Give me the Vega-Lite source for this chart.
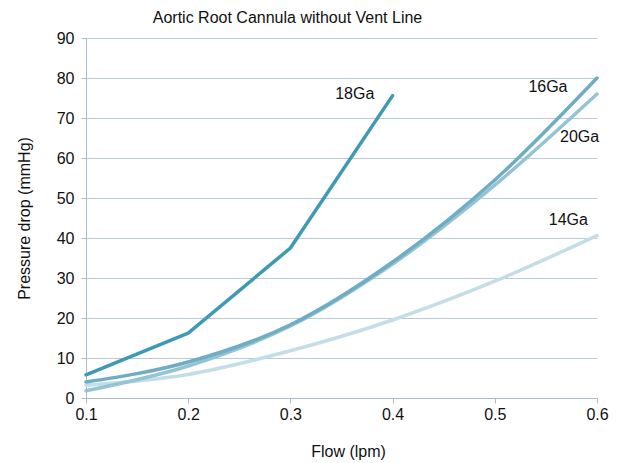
{
  "$schema": "https://vega.github.io/schema/vega-lite/v6.json",
  "width": 511,
  "height": 360,
  "autosize": {"type": "none"},
  "padding": {"left": 86, "top": 38, "right": 32, "bottom": 65},
  "background": "white",
  "title": {
    "text": "Aortic Root Cannula without Vent Line",
    "anchor": "middle",
    "frame": "group",
    "dx": -54,
    "offset": 4,
    "fontSize": 16,
    "fontWeight": "normal",
    "font": "Liberation Sans",
    "color": "#111111"
  },
  "config": {
    "view": {"stroke": null},
    "font": "Liberation Sans",
    "title": {"fontSize": 16, "fontWeight": "normal", "dx": -54}
  },
  "datasets": {
    "curves": [
      {"flow": 0.1, "pressure": 5.8, "series": "18Ga"},
      {"flow": 0.2, "pressure": 16.2, "series": "18Ga"},
      {"flow": 0.3, "pressure": 37.5, "series": "18Ga"},
      {"flow": 0.4, "pressure": 75.6, "series": "18Ga"},
      {"flow": 0.1, "pressure": 3.2, "series": "14Ga"},
      {"flow": 0.2, "pressure": 5.9, "series": "14Ga"},
      {"flow": 0.3, "pressure": 11.8, "series": "14Ga"},
      {"flow": 0.4, "pressure": 19.5, "series": "14Ga"},
      {"flow": 0.5, "pressure": 29.2, "series": "14Ga"},
      {"flow": 0.6, "pressure": 40.6, "series": "14Ga"},
      {"flow": 0.1, "pressure": 1.8, "series": "20Ga"},
      {"flow": 0.2, "pressure": 8.0, "series": "20Ga"},
      {"flow": 0.3, "pressure": 18.0, "series": "20Ga"},
      {"flow": 0.4, "pressure": 33.5, "series": "20Ga"},
      {"flow": 0.5, "pressure": 53.2, "series": "20Ga"},
      {"flow": 0.6, "pressure": 76.0, "series": "20Ga"},
      {"flow": 0.1, "pressure": 4.0, "series": "16Ga"},
      {"flow": 0.2, "pressure": 9.0, "series": "16Ga"},
      {"flow": 0.3, "pressure": 18.3, "series": "16Ga"},
      {"flow": 0.4, "pressure": 34.0, "series": "16Ga"},
      {"flow": 0.5, "pressure": 54.5, "series": "16Ga"},
      {"flow": 0.6, "pressure": 80.0, "series": "16Ga"}
    ],
    "labels": [
      {"flow": 0.363, "pressure": 76.0, "label": "18Ga"},
      {"flow": 0.552, "pressure": 77.8, "label": "16Ga"},
      {"flow": 0.583, "pressure": 65.3, "label": "20Ga"},
      {"flow": 0.572, "pressure": 44.5, "label": "14Ga"}
    ]
  },
  "encoding": {
    "x": {
      "field": "flow",
      "type": "quantitative",
      "scale": {"domain": [0.1, 0.6], "nice": false, "zero": false},
      "axis": {
        "title": "Flow (lpm)",
        "values": [0.1, 0.2, 0.3, 0.4, 0.5, 0.6],
        "format": ".1f",
        "grid": false,
        "domainColor": "#a9bcc7",
        "tickColor": "#a9bcc7",
        "tickSize": 5,
        "labelPadding": 3,
        "labelFontSize": 16,
        "labelColor": "#111111",
        "labelFont": "Liberation Sans",
        "titleFontSize": 16,
        "titleFontWeight": "normal",
        "titleColor": "#111111",
        "titleFont": "Liberation Sans",
        "titlePadding": 21,
        "titleX": 262,
        "labelFlush": false
      }
    },
    "y": {
      "field": "pressure",
      "type": "quantitative",
      "scale": {"domain": [0, 90], "nice": false},
      "axis": {
        "title": "Pressure drop (mmHg)",
        "values": [0, 10, 20, 30, 40, 50, 60, 70, 80, 90],
        "grid": true,
        "gridColor": "#b9cad3",
        "gridWidth": 1,
        "domainColor": "#a9bcc7",
        "tickColor": "#a9bcc7",
        "tickSize": 5,
        "labelPadding": 7,
        "labelFontSize": 16,
        "labelColor": "#111111",
        "labelFont": "Liberation Sans",
        "titleFontSize": 16,
        "titleFontWeight": "normal",
        "titleColor": "#111111",
        "titleFont": "Liberation Sans",
        "titlePadding": 24
      }
    }
  },
  "layer": [
    {
      "data": {"name": "curves"},
      "transform": [{"filter": "datum.series !== '18Ga'"}],
      "mark": {"type": "line", "interpolate": "monotone", "strokeWidth": 3.5, "strokeCap": "round"},
      "encoding": {
        "color": {
          "field": "series",
          "type": "nominal",
          "scale": {"domain": ["18Ga", "16Ga", "20Ga", "14Ga"], "range": ["#3e9ab3", "#6eadc4", "#94c3d3", "#c4dde6"]},
          "legend": null
        }
      }
    },
    {
      "data": {"name": "curves"},
      "transform": [{"filter": "datum.series === '18Ga'"}],
      "mark": {"type": "line", "interpolate": "linear", "strokeWidth": 3.5, "strokeCap": "round", "strokeJoin": "round"},
      "encoding": {
        "color": {
          "field": "series",
          "type": "nominal",
          "scale": {"domain": ["18Ga", "16Ga", "20Ga", "14Ga"], "range": ["#3e9ab3", "#6eadc4", "#94c3d3", "#c4dde6"]},
          "legend": null
        }
      }
    },
    {
      "data": {"name": "labels"},
      "mark": {"type": "text", "align": "center", "baseline": "middle", "fontSize": 16, "font": "Liberation Sans", "color": "#111111"},
      "encoding": {
        "text": {"field": "label", "type": "nominal"}
      }
    }
  ]
}
